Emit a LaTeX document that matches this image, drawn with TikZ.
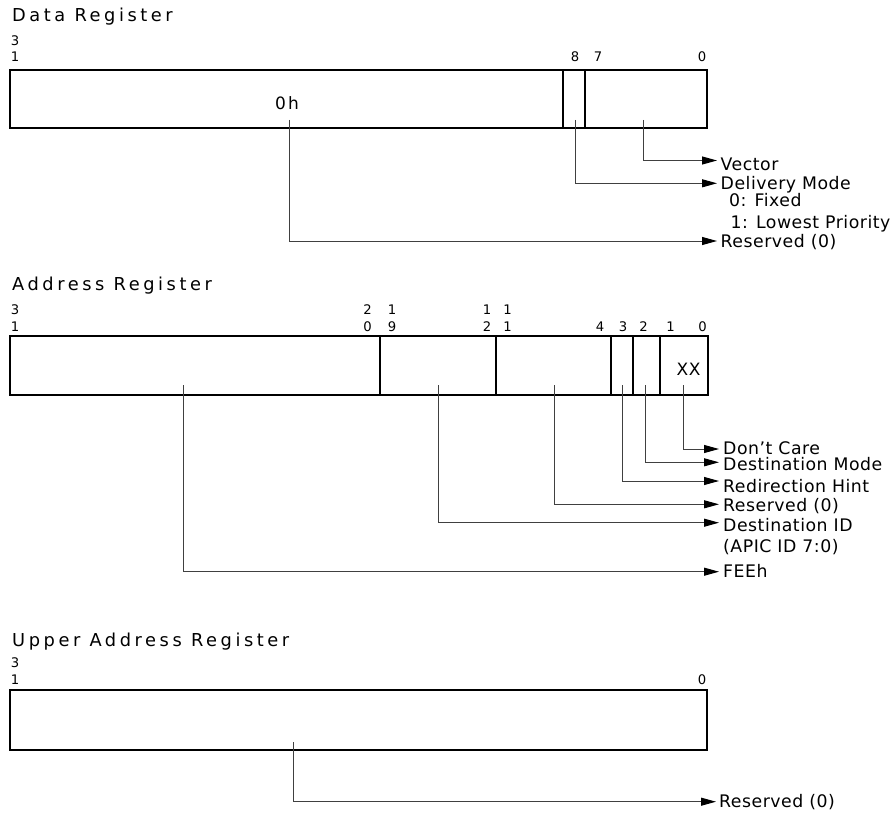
\documentclass[tikz,border=0pt]{standalone}
\usepackage{fontspec}
\setmainfont{DejaVu Sans}
\newfontfamily\lblfont[LetterSpace=3]{DejaVu Sans}
\newfontfamily\ttlfont[LetterSpace=20]{DejaVu Sans}
\newfontfamily\hexfont[LetterSpace=12]{DejaVu Sans}
\newfontfamily\bitfont{DejaVu Sans}
\usetikzlibrary{arrows.meta}
\tikzset{
  reg/.style={draw=black,line width=2pt},
  sep/.style={draw=black,line width=2pt},
  lead/.style={draw=black!75,line width=1pt,-{Triangle[length=15pt,width=8pt,color=black]}},
  ttl/.style={anchor=base west,inner sep=0pt,font=\ttlfont\fontsize{17.8}{20}\selectfont},
  lbl/.style={anchor=base west,inner sep=0pt,font=\lblfont\fontsize{17.3}{20}\selectfont},
  hexlbl/.style={anchor=base west,inner sep=0pt,font=\hexfont\fontsize{17}{20}\selectfont},
  bit/.style={anchor=base,inner sep=0pt,font=\bitfont\fontsize{13.2}{15}\selectfont}
}
\begin{document}
\begin{tikzpicture}[x=1pt,y=-1pt]
\useasboundingbox[fill=white] (0,0) rectangle (896,813);

% ---------------- Data Register ----------------
\node[ttl] (dtitle) at (12,21.5) {Data Register};
\node[bit] (d31a) at (15,45.7) {3};
\node[bit] (d31b) at (15,62) {1};
\node[bit] (d8) at (575,62) {8};
\node[bit] (d7) at (598,62) {7};
\node[bit] (d0) at (702,62) {0};
\draw[reg] (10,70) rectangle (706.7,128.5);
\draw[sep] (562.7,70) -- (562.7,128.5);
\draw[sep] (585,70) -- (585,128.5);
\node[hexlbl] (d0h) at (275,110) {0h};

\coordinate (vecS) at (643,120);
\coordinate (vecT) at (717,160.5);
\node[lbl] (vec) at (720.5,170.7) {Vector};
\draw[lead] (vecS) |- (vecT);

\coordinate (dmS) at (575,120);
\coordinate (dmT) at (717,183.3);
\node[lbl] (dm) at (720.5,189.3) {Delivery Mode};
\node[lbl] (dm0) at (729,206.7) {0: Fixed};
\node[lbl] (dm1) at (730.5,228) {1: Lowest Priority};
\draw[lead] (dmS) |- (dmT);

\coordinate (drS) at (289,120);
\coordinate (drT) at (717,241);
\node[lbl] (dr) at (720.5,247) {Reserved (0)};
\draw[lead] (drS) |- (drT);

% ---------------- Address Register ----------------
\node[ttl] (atitle) at (12,290) {Address Register};
\node[bit] (a31a) at (15,314.5) {3};
\node[bit] (a31b) at (15,331.7) {1};
\node[bit] (a20a) at (367.5,314.5) {2};
\node[bit] (a20b) at (367.5,331.7) {0};
\node[bit] (a19a) at (392,314.5) {1};
\node[bit] (a19b) at (392,331.7) {9};
\node[bit] (a12a) at (487,314.5) {1};
\node[bit] (a12b) at (487,331.7) {2};
\node[bit] (a11a) at (507.5,314.5) {1};
\node[bit] (a11b) at (507.5,331.7) {1};
\node[bit] (a4) at (600,331.7) {4};
\node[bit] (a3) at (623,331.7) {3};
\node[bit] (a2) at (643.5,331.7) {2};
\node[bit] (a1) at (670.5,331.7) {1};
\node[bit] (a0) at (702.5,331.7) {0};
\draw[reg] (10,335.5) rectangle (707.5,394.5);
\draw[sep] (380,335.5) -- (380,394.5);
\draw[sep] (496,335.5) -- (496,394.5);
\draw[sep] (610.7,335.5) -- (610.7,394.5);
\draw[sep] (633.3,335.5) -- (633.3,394.5);
\draw[sep] (660,335.5) -- (660,394.5);
\node[hexlbl,font=\lblfont\fontsize{17}{20}\selectfont] (axx) at (676.5,375) {XX};

\coordinate (dcS) at (683,385);
\coordinate (dcT) at (719,449);
\node[lbl] (dc) at (723,454.3) {Don’t Care};
\draw[lead] (dcS) |- (dcT);

\coordinate (dmoS) at (645.7,385);
\coordinate (dmoT) at (719,462.3);
\node[lbl] (dmo) at (723,470) {Destination Mode};
\draw[lead] (dmoS) |- (dmoT);

\coordinate (rhS) at (622.3,385);
\coordinate (rhT) at (719,481);
\node[lbl] (rh) at (723,492.7) {Redirection Hint};
\draw[lead] (rhS) |- (rhT);

\coordinate (arS) at (554,385);
\coordinate (arT) at (719,504.3);
\node[lbl] (ar) at (723,511) {Reserved (0)};
\draw[lead] (arS) |- (arT);

\coordinate (diS) at (438,385);
\coordinate (diT) at (719,522.7);
\node[lbl] (di) at (723,531.7) {Destination ID};
\node[lbl] (di2) at (723,552) {(APIC ID 7:0)};
\draw[lead] (diS) |- (diT);

\coordinate (feS) at (183.3,385);
\coordinate (feT) at (719,571.7);
\node[lbl] (fe) at (723,577.7) {FEEh};
\draw[lead] (feS) |- (feT);

% ---------------- Upper Address Register ----------------
\node[ttl] (utitle) at (12,646) {Upper Address Register};
\node[bit] (u31a) at (15,667) {3};
\node[bit] (u31b) at (15,684) {1};
\node[bit] (u0) at (702,684) {0};
\draw[reg] (10,690) rectangle (707,750);

\coordinate (urS) at (293,742);
\coordinate (urT) at (716,801.7);
\node[lbl] (ur) at (719,807.5) {Reserved (0)};
\draw[lead] (urS) |- (urT);
\end{tikzpicture}
\end{document}
